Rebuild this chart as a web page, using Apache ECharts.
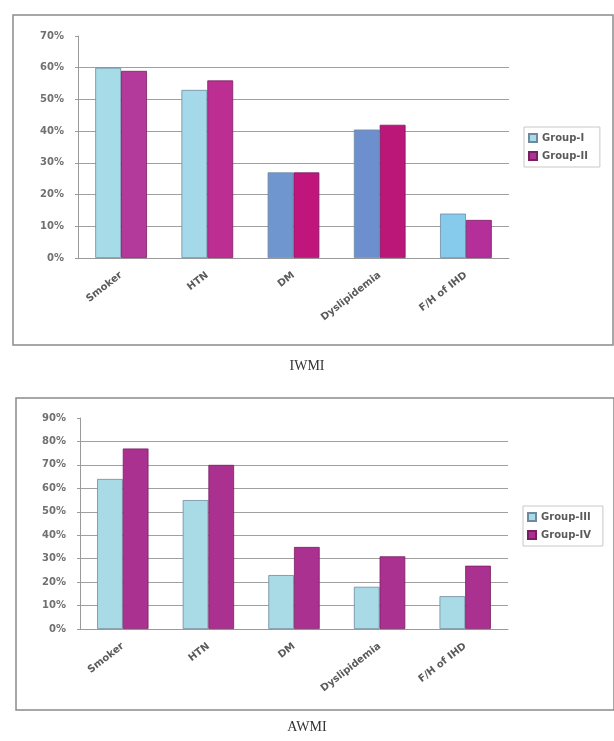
<!DOCTYPE html>
<html>
<head>
<meta charset="utf-8">
<script src="https://cdn.jsdelivr.net/npm/echarts@6/dist/echarts.min.js"></script>
<style>
  html, body { margin: 0; padding: 0; background: #fff; }
  #chart { width: 614px; height: 741px; }
</style>
</head>
<body>
<div id="chart"></div>
<script>
// Risk factor prevalence (%) by group
const categories = ['Smoker', 'HTN', 'DM', 'Dyslipidemia', 'F/H of IHD'];

const iwmiGroupI  = [60, 53, 27, 40.5, 14];
const iwmiGroupII = [59, 56, 27, 42, 12];

const awmiGroupIII = [64, 55, 23, 18, 14];
const awmiGroupIV  = [77, 70, 35, 31, 27];

const iwmiAxisMax = 70;
const awmiAxisMax = 90;

// fill colours for the Group-I / Group-II bars (DM and Dyslipidemia are printed darker)
const groupIFills = ['#a6dbe8', '#a4d9ea', '#7096d0', '#6d8fcd', '#86cbec'];
const groupIIFills = ['#b3399a', '#bd2e92', '#c0167c', '#ba1779', '#b52f9b'];

const lightBlue = '#a6dbe8';
const magenta = '#ad3592';

const labelFont = '"DejaVu Sans", Verdana, sans-serif';

function yAxis(gridIndex, max) {
  return {
    type: 'value', gridIndex, min: 0, max, interval: 10,
    axisLabel: { formatter: '{value}%', fontSize: 10, fontWeight: 'bold', color: '#707070', fontFamily: labelFont, margin: 14 },
    axisLine: { show: true, lineStyle: { color: '#9a9a9a', width: 1 } },
    axisTick: { show: true, length: 3, lineStyle: { color: '#9a9a9a' } },
    splitLine: { show: true, showMaxLine: false, lineStyle: { color: '#a0a0a0', width: 1 } }
  };
}

function xAxis(gridIndex) {
  return {
    type: 'category', gridIndex, data: categories,
    axisLabel: { rotate: 38, fontSize: 10, fontWeight: 'bold', color: '#5a5a5a', fontFamily: labelFont, margin: 16, interval: 0 },
    axisLine: { show: true, lineStyle: { color: '#9a9a9a', width: 1 } },
    axisTick: { show: false }
  };
}

function legend(left, top, names) {
  return {
    orient: 'vertical', left, top,
    data: names,
    itemWidth: 8, itemHeight: 8, itemGap: 8,
    padding: [6, 12, 6, 4],
    borderColor: '#c8c8c8', borderWidth: 1,
    textStyle: { fontSize: 10, color: '#5a5a5a', fontFamily: labelFont, fontWeight: 'bold' },
    icon: 'rect'
  };
}

const barCommon = { type: 'bar', barGap: '0%', barCategoryGap: '40%' };

const chart = echarts.init(document.getElementById('chart'), null, { renderer: 'canvas' });

chart.setOption({
  animation: false,
  backgroundColor: '#ffffff',
  grid: [
    { left: 78, right: 105, top: 36, bottom: 483 },
    { left: 80, right: 106, top: 418, bottom: 112 }
  ],
  xAxis: [xAxis(0), xAxis(1)],
  yAxis: [yAxis(0, iwmiAxisMax), yAxis(1, awmiAxisMax)],
  legend: [
    legend(524, 127, ['Group-I', 'Group-II']),
    legend(523, 506, ['Group-III', 'Group-IV'])
  ],
  series: [
    Object.assign({}, barCommon, {
      name: 'Group-I', xAxisIndex: 0, yAxisIndex: 0,
      itemStyle: { color: lightBlue, borderColor: '#6f8aa0', borderWidth: 0.8 },
      data: iwmiGroupI.map((v, i) => ({ value: v, itemStyle: { color: groupIFills[i] } }))
    }),
    Object.assign({}, barCommon, {
      name: 'Group-II', xAxisIndex: 0, yAxisIndex: 0,
      itemStyle: { color: magenta, borderColor: '#7a1f63', borderWidth: 0.8 },
      data: iwmiGroupII.map((v, i) => ({ value: v, itemStyle: { color: groupIIFills[i] } }))
    }),
    Object.assign({}, barCommon, {
      name: 'Group-III', xAxisIndex: 1, yAxisIndex: 1,
      itemStyle: { color: '#a8dbe6', borderColor: '#6f8aa0', borderWidth: 0.8 },
      data: awmiGroupIII
    }),
    Object.assign({}, barCommon, {
      name: 'Group-IV', xAxisIndex: 1, yAxisIndex: 1,
      itemStyle: { color: '#ab3190', borderColor: '#7a1f63', borderWidth: 0.8 },
      data: awmiGroupIV
    })
  ],
  graphic: [
    { type: 'rect', shape: { x: 13, y: 15, width: 600, height: 330 }, style: { fill: 'none', stroke: '#8a8a8a', lineWidth: 1.5 }, z: -1 },
    { type: 'rect', shape: { x: 16, y: 398, width: 598, height: 312 }, style: { fill: 'none', stroke: '#8a8a8a', lineWidth: 1.5 }, z: -1 },
    { type: 'text', left: 'center', top: 359, style: { text: 'IWMI', font: '14px "Liberation Serif", "Times New Roman", serif', fill: '#333' } },
    { type: 'text', left: 'center', top: 720, style: { text: 'AWMI', font: '14px "Liberation Serif", "Times New Roman", serif', fill: '#333' } }
  ]
});
</script>
</body>
</html>
